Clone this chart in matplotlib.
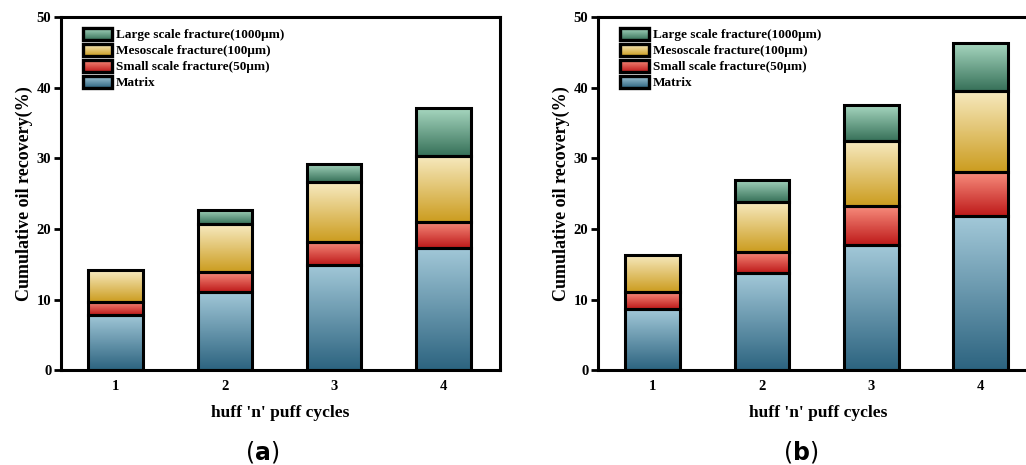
import numpy as np
import matplotlib
matplotlib.use("Agg")
from matplotlib import pyplot as plt
from matplotlib.colors import LinearSegmentedColormap
from matplotlib.patches import Rectangle
from matplotlib.image import BboxImage
from matplotlib.transforms import Bbox, TransformedBbox
from matplotlib.legend_handler import HandlerBase

plt.rcParams['font.family'] = ['Liberation Serif', 'DejaVu Serif']
plt.rcParams['font.weight'] = 'bold'

cycles = [1, 2, 3, 4]
labels = ['Matrix', 'Small scale fracture(50μm)', 'Mesoscale fracture(100μm)', 'Large scale fracture(1000μm)']

# segment heights
matrix_a = [7.8, 11.1, 14.9, 17.3]
small_a = [1.9, 2.8, 3.3, 3.7]
meso_a = [4.5, 6.8, 8.4, 9.4]
large_a = [0.0, 2.0, 2.6, 6.7]

matrix_b = [8.6, 13.7, 17.7, 21.8]
small_b = [2.4, 3.0, 5.5, 6.2]
meso_b = [5.3, 7.1, 9.3, 11.6]
large_b = [0.0, 3.2, 5.0, 6.7]

# (top colour, bottom colour) of each gradient
grads = [('#a2c8d8', '#2d6480'),
         ('#f78c7c', '#be1a1a'),
         ('#f7eac0', '#cc9d20'),
         ('#a6d6bf', '#377159')]


def cmap_for(g):
    return LinearSegmentedColormap.from_list('g', [g[1], g[0]])


grad_img = np.linspace(0, 1, 64).reshape(-1, 1)


class GradHandler(HandlerBase):
    def __init__(self, g):
        super().__init__()
        self.g = g

    def create_artists(self, legend, orig_handle, xdescent, ydescent,
                       width, height, fontsize, trans):
        bb = TransformedBbox(Bbox.from_bounds(-xdescent, -ydescent, width, height), trans)
        img = BboxImage(bb, cmap=cmap_for(self.g), origin='lower', interpolation='bilinear')
        img.set_data(grad_img)
        rect = Rectangle((-xdescent, -ydescent), width, height, facecolor='none',
                         edgecolor='black', linewidth=2.4, transform=trans)
        return [img, rect]


def draw_panel(ax, series):
    bottom = np.zeros(len(cycles))
    handles = []
    for vals, g, lab in zip(series, grads, labels):
        bars = ax.bar(cycles, vals, width=0.5, bottom=bottom, facecolor='none',
                      edgecolor='black', linewidth=2.2, zorder=3, label=lab)
        for p in bars.patches:
            if p.get_height() <= 0:
                p.set_visible(False)
                continue
            x0, y0 = p.get_x(), p.get_y()
            im = ax.imshow(grad_img, cmap=cmap_for(g), origin='lower', aspect='auto',
                           extent=(x0, x0 + p.get_width(), y0, y0 + p.get_height()),
                           interpolation='bilinear', zorder=2)
            im.set_clip_path(p)
        handles.append(bars)
        bottom = bottom + np.array(vals)

    ax.set_xlim(0.5, 4.52)
    ax.set_ylim(0, 50)
    ax.set_xticks(cycles)
    ax.set_yticks([0, 10, 20, 30, 40, 50])
    ax.tick_params(axis='x', length=0, labelsize=10.5, pad=7)
    ax.tick_params(axis='y', direction='out', length=5, width=2, labelsize=10.5, pad=2)
    for s in ax.spines.values():
        s.set_linewidth(2.2)
    ax.set_xlabel("huff 'n' puff cycles", fontsize=12.5, fontweight='bold', labelpad=9)
    ax.set_ylabel('Cumulative oil recovery(%)', fontsize=13, fontweight='bold', labelpad=3)

    order = handles[::-1]
    hmap = {h: GradHandler(g) for h, g in zip(handles, grads)}
    ax.legend(order, labels[::-1], loc='upper left', frameon=False, fontsize=9.5,
              handler_map=hmap, handlelength=2.2, handleheight=1.0,
              labelspacing=0.2, handletextpad=0.3, borderaxespad=0.4,
              bbox_to_anchor=(0.025, 1.0))


fig = plt.figure(figsize=(10.26, 4.65), dpi=100)
ax1 = fig.add_axes([0.0595, 0.204, 0.428, 0.759])
ax2 = fig.add_axes([0.583, 0.204, 0.428, 0.759])

draw_panel(ax1, [matrix_a, small_a, meso_a, large_a])
draw_panel(ax2, [matrix_b, small_b, meso_b, large_b])

fig.text(0.2555, 0.028, r'($\mathbf{a}$)', fontsize=17, ha='center', va='center',
         fontweight='normal', family='DejaVu Sans')
fig.text(0.780, 0.028, r'($\mathbf{b}$)', fontsize=17, ha='center', va='center',
         fontweight='normal', family='DejaVu Sans')

fig.savefig('out.png', dpi=100)
